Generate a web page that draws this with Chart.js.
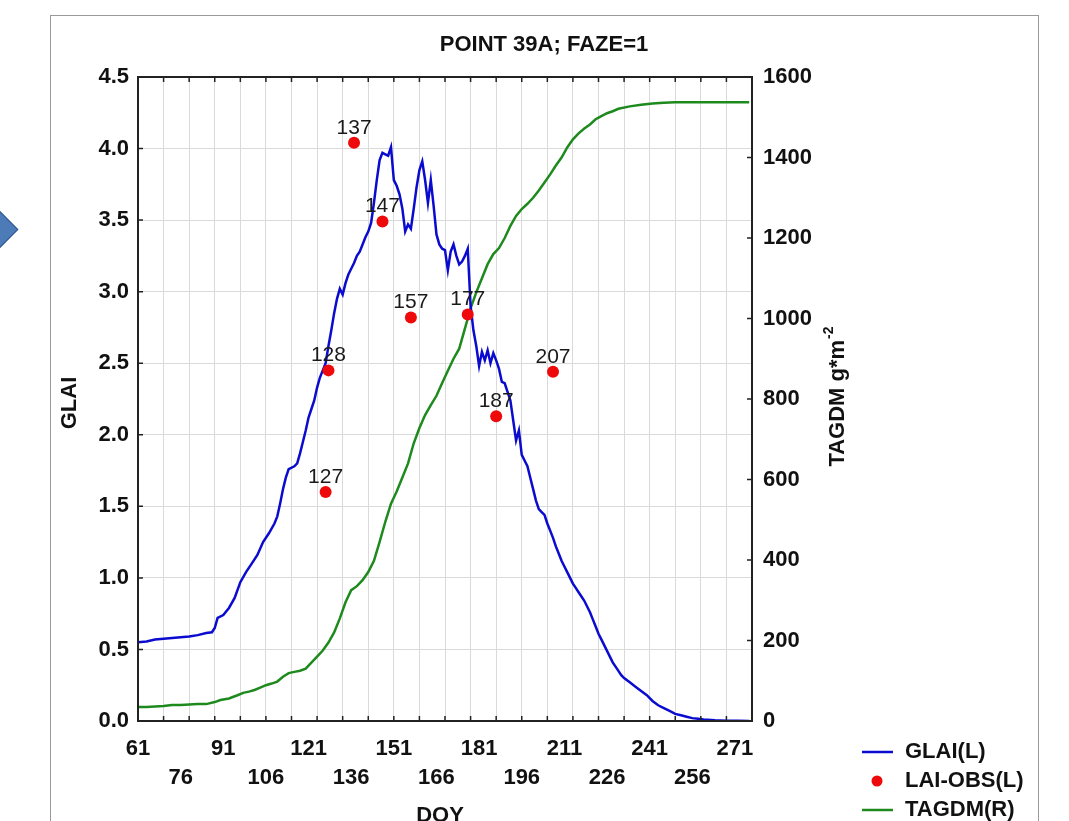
<!DOCTYPE html>
<html>
<head>
<meta charset="utf-8">
<script src="https://cdn.jsdelivr.net/npm/chart.js@4.4.0/dist/chart.umd.min.js"></script>
<style>
  html, body { margin: 0; padding: 0; background: #fff; }
  #wrap { position: relative; width: 1069px; height: 821px; overflow: hidden; }
  #panel { position: absolute; left: 50px; top: 15px; width: 987px; height: 900px; border: 1px solid #9a9a9a; }
  #arrow { position: absolute; left: -19px; top: 214px; width: 29px; height: 29px; transform: rotate(45deg);
           background: #4d7bb8; border: 1px solid #2f5690; }
  #chart { position: absolute; left: 0; top: 0; }
</style>
</head>
<body>
<div id="wrap">
  <div id="panel"></div>
  <div id="arrow"></div>
  <canvas id="chart" width="1069" height="821"></canvas>
</div>
<script>
// jours des lignes de grille et des etiquettes
const gridDays = [61,70,79,88,97,106,115,124,133,142,151,160,169,178,187,196,205,214,223,232,241,250,259,268,277];
const labelDays = [61,76,91,106,121,136,151,166,181,196,211,226,241,256,271];

// GLAI simule (axe gauche)
const glaiDoy = [61,64,67,70,73,76,79,82,85,87,88,89,91,93,95,97,99,101,103,105,107,109,110,111,112,113,114,116,117,118,119,120,
  121,122,123,124,125,126,127,128,129,130,131,132,133,134,135,136,137,138,139,140,141,142,143,144,145,146,147,148,149,150,
  151,152,153,154,155,156,157,158,159,160,161,162,163,164,165,166,167,168,169,170,171,172,173,174,175,176,177,178,179,180,
  181,182,183,184,185,186,187,188,189,190,191,192,193,194,195,196,197,198,199,200,201,202,203,204,205,206,207,208,209,210,
  211,212,213,214,215,216,217,218,219,220,221,222,223,224,225,226,227,228,229,230,231,232,234,236,238,240,242,244,246,248,
  250,252,254,256,258,260,264,268,272,276];
const glai = [0.55,0.555,0.57,0.575,0.58,0.585,0.59,0.60,0.615,0.62,0.65,0.72,0.74,0.79,0.86,0.97,1.04,1.10,1.16,1.25,1.31,1.38,1.43,1.52,1.62,1.70,1.76,1.78,1.80,1.87,1.95,2.03,
  2.12,2.18,2.24,2.33,2.40,2.45,2.50,2.62,2.73,2.85,2.95,3.02,2.98,3.06,3.12,3.16,3.20,3.25,3.28,3.33,3.38,3.42,3.48,3.62,3.78,3.92,3.97,3.96,3.95,4.01,
  3.78,3.74,3.68,3.58,3.42,3.47,3.44,3.58,3.73,3.85,3.91,3.78,3.62,3.78,3.60,3.40,3.33,3.30,3.29,3.15,3.28,3.33,3.25,3.19,3.21,3.25,3.30,2.90,2.73,2.62,
  2.48,2.58,2.52,2.59,2.50,2.57,2.52,2.46,2.37,2.36,2.30,2.24,2.10,1.96,2.03,1.86,1.82,1.78,1.70,1.62,1.54,1.48,1.46,1.44,1.38,1.33,1.28,1.22,1.17,1.12,
  1.08,1.04,1.00,0.96,0.93,0.90,0.87,0.84,0.80,0.76,0.71,0.66,0.61,0.57,0.53,0.49,0.45,0.41,0.38,0.35,0.32,0.30,0.27,0.24,0.21,0.18,0.14,0.11,0.09,0.07,
  0.05,0.04,0.03,0.02,0.015,0.01,0.005,0.002,0.001,0];

// LAI observe
const obsDoy = [127,128,137,147,157,177,187,207];
const laiObs = [1.60,2.45,4.04,3.49,2.82,2.84,2.13,2.44];

// TAGDM (axe droit)
const tagDoy = [61,64,67,70,73,76,79,82,85,88,90,93,96,98,100,102,104,106,108,110,112,114,116,118,120,122,124,126,128,130,
  132,134,136,138,140,142,144,146,148,150,152,154,156,158,160,162,164,166,168,170,172,174,176,177,178,180,182,184,186,188,
  190,192,194,196,198,200,202,204,206,208,210,212,214,216,218,220,222,224,226,228,230,234,238,242,246,250,260,270,276];
const tagdm = [35,35,36,37,40,40,41,42,42,47,52,56,64,70,73,77,83,89,93,98,110,119,122,125,130,145,160,175,195,220,
  255,295,325,335,350,370,398,445,495,540,570,605,640,690,728,760,785,808,840,870,900,925,975,1000,1025,1065,1100,1135,1160,1175,
  1200,1230,1255,1272,1285,1300,1318,1338,1358,1380,1400,1425,1445,1460,1472,1482,1495,1503,1510,1515,1521,1527,1531,1534,1536,1537,1537,1537,1537];

const FONT = "'Liberation Sans', Arial, sans-serif";

// titres, cadre, petites graduations, etiquettes et legende
const decor = {
  id: 'decor',
  afterDatasetsDraw(chart) {
    const c = chart.ctx;
    const a = chart.chartArea;
    const sx = chart.scales.x, sy = chart.scales.y, sy2 = chart.scales.y2;
    c.save();
    c.strokeStyle = '#222';
    c.lineWidth = 1.5;
    c.beginPath();
    sx.ticks.forEach(t => {
      const px = sx.getPixelForValue(t.value);
      c.moveTo(px, a.bottom); c.lineTo(px, a.bottom - 5);
      c.moveTo(px, a.top); c.lineTo(px, a.top + 5);
    });
    sy.ticks.forEach(t => {
      const py = sy.getPixelForValue(t.value);
      c.moveTo(a.left, py); c.lineTo(a.left + 5, py);
    });
    sy2.ticks.forEach(t => {
      const py = sy2.getPixelForValue(t.value);
      c.moveTo(a.right, py); c.lineTo(a.right - 5, py);
    });
    c.stroke();
    c.lineWidth = 2;
    c.strokeRect(a.left, a.top, a.right - a.left, a.bottom - a.top);

    // etiquettes des points observes
    const meta = chart.getDatasetMeta(0);
    c.fillStyle = '#1a1a1a';
    c.font = '21px ' + FONT;
    c.textAlign = 'center';
    c.textBaseline = 'middle';
    meta.data.forEach((el, i) => c.fillText(String(obsDoy[i]), el.x, el.y - 15));

    // titres
    c.fillStyle = '#111';
    c.font = 'bold 22px ' + FONT;
    c.fillText('POINT 39A; FAZE=1', 544, 45);
    c.fillText('DOY', 440, 816);
    c.save();
    c.translate(70, 403);
    c.rotate(-Math.PI / 2);
    c.fillText('GLAI', 0, 0);
    c.restore();

    c.save();
    c.translate(838, 397);
    c.rotate(-Math.PI / 2);
    const main = 'TAGDM g*m';
    const wMain = c.measureText(main).width;
    c.font = 'bold 14px ' + FONT;
    const wSup = c.measureText('-2').width;
    const x0 = -(wMain + wSup) / 2;
    c.textAlign = 'left';
    c.font = 'bold 22px ' + FONT;
    c.fillText(main, x0, 0);
    c.font = 'bold 14px ' + FONT;
    c.fillText('-2', x0 + wMain + 1, -9);
    c.restore();

    // legende
    c.textAlign = 'left';
    c.font = 'bold 22px ' + FONT;
    const items = [
      { label: 'GLAI(L)', kind: 'line', color: '#0b0bd0' },
      { label: 'LAI-OBS(L)', kind: 'dot', color: '#ee0a0a' },
      { label: 'TAGDM(R)', kind: 'line', color: '#1e8a1e' }
    ];
    items.forEach((it, i) => {
      const y = 752 + i * 29;
      if (it.kind === 'line') {
        c.strokeStyle = it.color; c.lineWidth = 2.5;
        c.beginPath(); c.moveTo(862, y); c.lineTo(893, y); c.stroke();
      } else {
        c.fillStyle = it.color;
        c.beginPath(); c.arc(877, y, 5.5, 0, Math.PI * 2); c.fill();
      }
      c.fillStyle = '#111';
      c.fillText(it.label, 905, y);
    });
    c.restore();
  }
};

const ctx = document.getElementById('chart').getContext('2d');
const chart = new Chart(ctx, {
  type: 'line',
  data: {
    datasets: [
      {
        label: 'LAI-OBS(L)',
        data: obsDoy.map((d, i) => ({ x: d, y: laiObs[i] })),
        showLine: false,
        pointRadius: 6,
        pointBackgroundColor: '#ee0a0a',
        pointBorderWidth: 0,
        yAxisID: 'y'
      },
      {
        label: 'GLAI(L)',
        data: glaiDoy.map((d, i) => ({ x: d, y: glai[i] })),
        borderColor: '#0b0bd0',
        borderWidth: 2.5,
        pointRadius: 0,
        tension: 0,
        yAxisID: 'y'
      },
      {
        label: 'TAGDM(R)',
        data: tagDoy.map((d, i) => ({ x: d, y: tagdm[i] })),
        borderColor: '#1e8a1e',
        borderWidth: 2.5,
        pointRadius: 0,
        tension: 0,
        yAxisID: 'y2'
      }
    ]
  },
  options: {
    responsive: false,
    animation: false,
    layout: { padding: { top: 77, left: 0, right: 0, bottom: 0 } },
    plugins: { legend: { display: false }, tooltip: { enabled: false } },
    scales: {
      // axe de grille (pas de 9 jours)
      x: {
        type: 'linear',
        position: 'bottom',
        min: 61,
        max: 277,
        afterBuildTicks: s => { s.ticks = gridDays.map(v => ({ value: v })); },
        afterFit: s => { s.height = 0; },
        grid: { drawTicks: false, color: '#dadada', lineWidth: 1 },
        border: { display: false },
        ticks: { display: false }
      },
      // axe des etiquettes (pas de 15 jours, en quinconce)
      xl: {
        type: 'linear',
        position: 'bottom',
        min: 61,
        max: 277,
        afterBuildTicks: s => { s.ticks = labelDays.map(v => ({ value: v })); },
        afterFit: s => { s.height = 100; },
        grid: { display: false },
        border: { display: false },
        ticks: {
          autoSkip: false,
          maxRotation: 0,
          padding: 6,
          color: '#111',
          font: { family: FONT, size: 22, weight: 'bold', lineHeight: 1.3 },
          callback: v => {
            const k = labelDays.indexOf(v);
            return k % 2 === 0 ? [String(v), ''] : ['', String(v)];
          }
        }
      },
      y: {
        position: 'left',
        min: 0,
        max: 4.5,
        afterFit: s => { s.width = 138; },
        grid: { drawTicks: false, color: '#dadada' },
        border: { display: false },
        ticks: {
          stepSize: 0.5,
          padding: 9,
          color: '#111',
          font: { family: FONT, size: 22, weight: 'bold' },
          callback: v => v.toFixed(1)
        }
      },
      y2: {
        position: 'right',
        min: 0,
        max: 1600,
        afterFit: s => { s.width = 317; },
        grid: { drawOnChartArea: false, drawTicks: false },
        border: { display: false },
        ticks: {
          stepSize: 200,
          padding: 11,
          color: '#111',
          font: { family: FONT, size: 22, weight: 'bold' },
          callback: v => String(v)
        }
      }
    }
  },
  plugins: [decor]
});
</script>
</body>
</html>
